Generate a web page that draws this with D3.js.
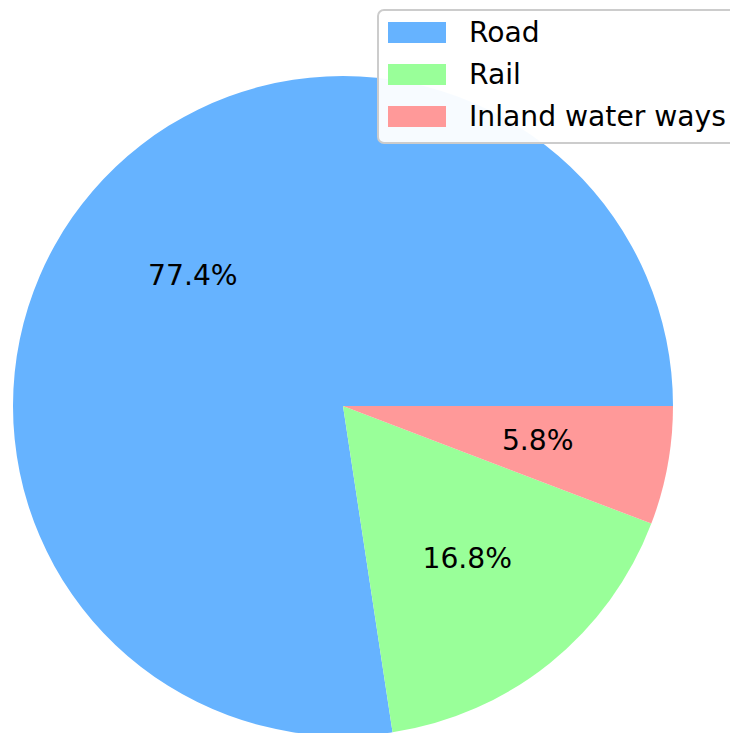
<!DOCTYPE html>
<html>
<head>
<meta charset="utf-8">
<script src="https://cdn.jsdelivr.net/npm/d3@7"></script>
<style>
  html, body { margin: 0; padding: 0; background: #ffffff; }
  svg { display: block; }
  text { font-family: "DejaVu Sans", sans-serif; }
</style>
</head>
<body>
<svg id="chart" width="730" height="733"></svg>
<script>
const categories = ["Road", "Rail", "Inland water ways"];
const values = [77.4, 16.8, 5.8];
const colors = ["#66b3ff", "#99ff99", "#ff9999"];

const svg = d3.select("#chart");
const cx = 343, cy = 406, R = 330;
const fontSize = 28.2;

const pie = d3.pie().value(d => d.v).sort(null)
  .startAngle(Math.PI / 2).endAngle(Math.PI / 2 - 2 * Math.PI);
const data = categories.map((c, i) => ({ c, v: values[i], col: colors[i] }));
const arcs = pie(data);
const arc = d3.arc().innerRadius(0).outerRadius(R);
const labelArc = d3.arc().innerRadius(R * 0.6).outerRadius(R * 0.6);
const total = d3.sum(values);

const g = svg.append("g").attr("transform", `translate(${cx},${cy})`);
g.selectAll("path").data(arcs).enter().append("path")
  .attr("d", arc)
  .attr("fill", d => d.data.col);

g.selectAll("text.lbl").data(arcs).enter().append("text")
  .attr("class", "lbl")
  .attr("x", d => labelArc.centroid(d)[0])
  .attr("y", d => labelArc.centroid(d)[1] + 8)
  .attr("text-anchor", "middle")
  .attr("font-size", fontSize)
  .attr("fill", "#000")
  .text(d => (d.data.v / total * 100).toFixed(1) + "%");

// Legend
const lg = svg.append("g");
lg.append("rect")
  .attr("x", 378).attr("y", 10)
  .attr("width", 380).attr("height", 133)
  .attr("rx", 6).attr("ry", 6)
  .attr("fill", "#ffffff").attr("fill-opacity", 0.95)
  .attr("stroke", "#cccccc").attr("stroke-width", 2);

const items = lg.selectAll("g.item").data(data).enter().append("g")
  .attr("class", "item")
  .attr("transform", (d, i) => `translate(0,${i * 42})`);
items.append("rect")
  .attr("x", 388).attr("y", 22)
  .attr("width", 58).attr("height", 21)
  .attr("fill", d => d.col);
items.append("text")
  .attr("x", 469).attr("y", 42)
  .attr("font-size", fontSize)
  .attr("fill", "#000")
  .text(d => d.c);
</script>
</body>
</html>
